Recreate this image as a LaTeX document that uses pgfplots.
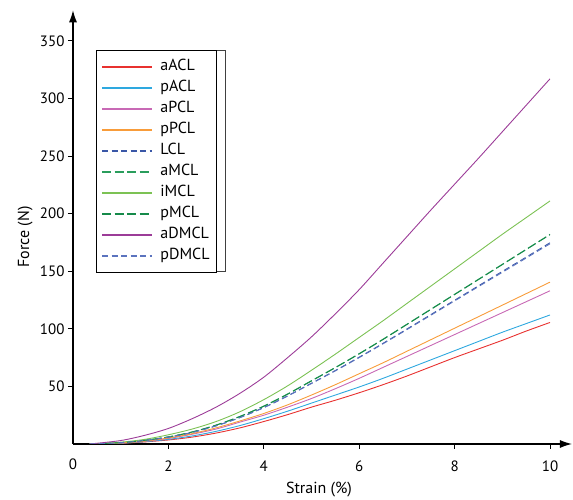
\documentclass[border=0pt]{standalone}
\usepackage{pgfplots}
\pgfplotsset{compat=1.18}
\usepackage{fontspec}
\setmainfont{PT Sans}
\usetikzlibrary{arrows.meta}
\definecolor{cA}{HTML}{E8312F}
\definecolor{cB}{HTML}{2EA8DF}
\definecolor{cC}{HTML}{C869B5}
\definecolor{cD}{HTML}{F89C3A}
\definecolor{cE}{HTML}{3A57A7}
\definecolor{cF}{HTML}{2A9D5C}
\definecolor{cG}{HTML}{7CC254}
\definecolor{cH}{HTML}{168A4A}
\definecolor{cI}{HTML}{9C3C98}
\definecolor{cJ}{HTML}{5B73BE}
\begin{document}
\begin{tikzpicture}
\begin{axis}[
  anchor=origin, at={(0pt,0pt)},
  x=47.7pt, y=1.152pt,
  xmin=0, xmax=10.46, ymin=0, ymax=376.5,
  axis lines=left,
  x axis line style={-{Latex[length=12pt,width=8pt]}, line width=1.1pt},
  y axis line style={-{Latex[length=12pt,width=8pt]}, line width=1.1pt},
  tick align=outside, major tick length=5pt,
  tick style={black, line width=0.9pt},
  xtick={2,4,...,10}, ytick={50,100,...,350},
  extra x ticks={0}, extra x tick style={major tick length=0pt},
  /pgf/number format/assume math mode=true,
  ticklabel style={font=\fontsize{15}{18}\selectfont},
  xticklabel style={yshift=-8pt},
  extra x tick style={xticklabel style={yshift=-3pt}},
  xlabel={Strain (\%)}, ylabel={Force (N)},
  label style={font=\fontsize{16}{19}\selectfont},
  xlabel style={at={(axis description cs:0.493,-0.106)}, anchor=center},
  ylabel style={at={(axis description cs:-0.096,0.477)}, anchor=center},
  legend cell align=left,
  legend image code/.code={\draw[#1, line width=1.6pt] (0pt,0pt) -- (50pt,0pt);},
  legend style={at={(axis description cs:0.046,0.908)}, anchor=north west,
    font=\fontsize{16}{19}\selectfont, line width=0.8pt,
    inner xsep=5pt, inner ysep=8pt, row sep=4.5pt, column sep=6pt,
    nodes={inner sep=1.5pt, text height=10.5pt, text depth=3pt},
    column 2/.style={nodes={text width=56pt, align=left}}},
  every axis plot/.append style={line width=0.9pt, smooth},
]
\draw[black!75, line width=0.8pt] (axis description cs:0.0461,0.9078) rectangle (axis description cs:0.3046,0.3986);
\addplot[draw=cA] coordinates {(0.35,0) (1,0.6) (1.5,1.8) (2,3.5) (2.5,6) (3,9.5) (3.5,14) (4,19.5) (4.5,25.5) (5,32) (5.5,38) (6,44.5) (6.5,51.5) (7,59) (7.5,67) (8,75) (8.5,82.5) (9,90) (9.5,98) (10,105.5)};
\addlegendentry{aACL}
\addplot[draw=cB] coordinates {(0.35,0) (1,0.7) (1.5,2) (2,4) (2.5,7) (3,11) (3.5,16) (4,22) (4.5,28.5) (5,35.5) (5.5,42.5) (6,49.5) (6.5,57) (7,65) (7.5,73) (8,81) (8.5,89) (9,97) (9.5,104.5) (10,112)};
\addlegendentry{pACL}
\addplot[draw=cC] coordinates {(0.35,0) (1,0.8) (1.5,2.3) (2,4.8) (2.5,8.5) (3,13) (3.5,19) (4,25) (4.5,32) (5,39.5) (5.5,48) (6,57) (6.5,66.5) (7,76) (7.5,85.5) (8,95) (8.5,104.5) (9,114) (9.5,123.5) (10,133)};
\addlegendentry{aPCL}
\addplot[draw=cD] coordinates {(0.35,0) (1,0.9) (1.5,2.5) (2,5.2) (2.5,9) (3,14) (3.5,20) (4,26.5) (4.5,34) (5,42.5) (5.5,51.5) (6,61) (6.5,70.5) (7,80.5) (7.5,90.5) (8,100.5) (8.5,110.5) (9,120.5) (9.5,130.5) (10,140.5)};
\addlegendentry{pPCL}
\addplot[draw=cE, dash pattern=on 6pt off 3.5pt] coordinates {(0.35,0) (1,1.15) (1.5,3.1) (2,6) (2.5,10.1) (3,15.8) (3.5,23) (4,31.7) (4.5,41.8) (5,52.8) (5.5,63.8) (6,75.4) (6.5,87.4) (7,99.8) (7.5,112.3) (8,124.8) (8.5,137.3) (9,149.8) (9.5,162.2) (10,174.7)};
\addlegendentry{LCL}
\addplot[draw=cF, dash pattern=on 9pt off 3.5pt] coordinates {(0.35,0) (1,1.2) (1.5,3.2) (2,6.2) (2.5,10.5) (3,16.5) (3.5,24) (4,33) (4.5,43.5) (5,55) (5.5,66.5) (6,78.5) (6.5,91) (7,104) (7.5,117) (8,130) (8.5,143) (9,156) (9.5,169) (10,182)};
\addlegendentry{aMCL}
\addplot[draw=cG] coordinates {(0.35,0) (1,1.6) (1.5,4) (2,8) (2.5,13) (3,19.5) (3.5,28) (4,38.5) (4.5,50.5) (5,64) (5.5,78) (6,92.5) (6.5,107) (7,122) (7.5,137) (8,152) (8.5,167) (9,182) (9.5,196.5) (10,211)};
\addlegendentry{iMCL}
\addplot[draw=cH, dash pattern=on 9pt off 3.5pt] coordinates {(0.35,0) (1,1.2) (1.5,3.2) (2,6.1) (2.5,10.4) (3,16.3) (3.5,23.8) (4,32.7) (4.5,43.2) (5,54.7) (5.5,66.2) (6,78.2) (6.5,90.7) (7,103.7) (7.5,116.7) (8,129.7) (8.5,142.7) (9,155.7) (9.5,168.7) (10,181.7)};
\addlegendentry{pMCL}
\addplot[draw=cI] coordinates {(0.35,0) (1,3) (1.5,7.5) (2,13.5) (2.5,22) (3,32) (3.5,44) (4,58) (4.5,75) (5,93) (5.5,113) (6,134) (6.5,157) (7,180) (7.5,203) (8,225.5) (8.5,248) (9,271) (9.5,294) (10,317)};
\addlegendentry{aDMCL}
\addplot[draw=cJ, dash pattern=on 6pt off 3.5pt] coordinates {(0.35,0) (1,1.14) (1.5,3.08) (2,5.97) (2.5,10) (3,15.7) (3.5,22.9) (4,31.5) (4.5,41.6) (5,52.5) (5.5,63.5) (6,75) (6.5,87) (7,99.3) (7.5,111.7) (8,124.2) (8.5,136.6) (9,149) (9.5,161.4) (10,173.8)};
\addlegendentry{pDMCL}
\end{axis}
\pgfresetboundingbox
\path (-73pt,-56pt) rectangle (500pt,444pt);
\end{tikzpicture}
\end{document}
